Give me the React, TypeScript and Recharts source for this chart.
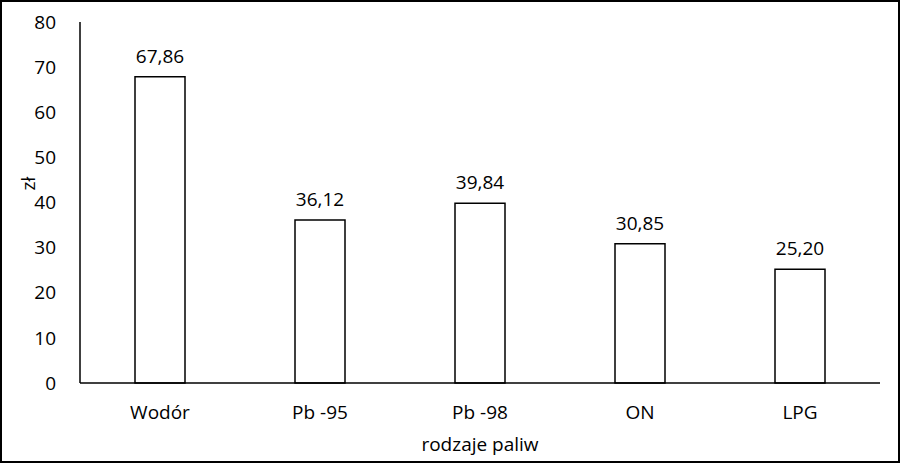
import React from 'react';
import { BarChart, Bar, XAxis, YAxis, LabelList, Label } from 'recharts';

const fuels = ['Wodór', 'Pb -95', 'Pb -98', 'ON', 'LPG'];
const prices = [67.86, 36.12, 39.84, 30.85, 25.2];
const yTicks = [0, 10, 20, 30, 40, 50, 60, 70, 80];

const data = fuels.map((name, i) => ({ name, value: prices[i] }));

const FONT = '"Open Sans", sans-serif';
const fmt = (v: number) => v.toFixed(2).replace('.', ',');

if (typeof document !== 'undefined') document.body.style.margin = '0';

export default function App() {
  return (
    <div style={{ position: 'relative', width: 900, height: 463, background: '#fff', fontFamily: FONT }}>
      <BarChart width={900} height={463} data={data} margin={{ top: 22, right: 20, left: 20, bottom: 8 }}>
        <XAxis
          dataKey="name"
          height={72}
          tickLine={false}
          axisLine={{ stroke: '#000', strokeWidth: 1.5 }}
          tick={{ fontSize: 19, fill: '#000', fontFamily: FONT }}
          tickMargin={17}
        >
          <Label value="rodzaje paliw" position="insideBottom" offset={4} style={{ fontSize: 19, fill: '#000', fontFamily: FONT }} />
        </XAxis>
        <YAxis
          width={60}
          domain={[0, 80]}
          ticks={yTicks}
          interval={0}
          tickLine={false}
          axisLine={{ stroke: '#000', strokeWidth: 1.5 }}
          tick={{ fontSize: 19, fill: '#000', fontFamily: FONT }}
          tickMargin={18}
        >
          <Label value="zł" angle={-90} position="insideLeft" offset={8} dy={-12} style={{ fontSize: 19, fill: '#000', fontFamily: FONT }} />
        </YAxis>
        <Bar dataKey="value" barSize={50} fill="#fff" stroke="#000" strokeWidth={1.5} isAnimationActive={false}>
          <LabelList dataKey="value" position="top" offset={14} formatter={(v: any) => fmt(Number(v))} style={{ fontSize: 19, fill: '#000', fontFamily: FONT }} />
        </Bar>
      </BarChart>
      <div style={{ position: 'absolute', inset: 0, border: '2px solid #000', pointerEvents: 'none' }} />
    </div>
  );
}
